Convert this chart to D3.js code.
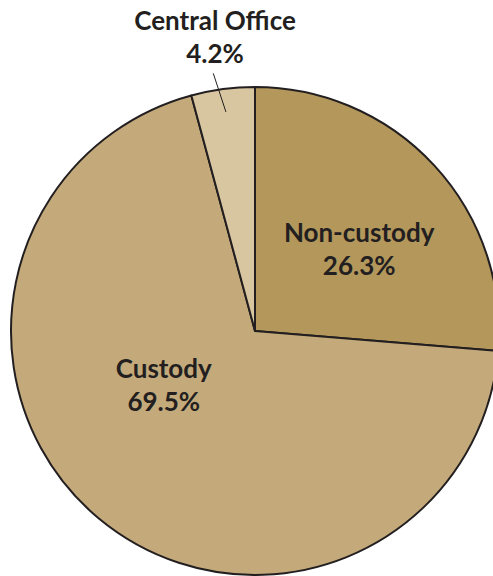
<!DOCTYPE html>
<html lang="en">
<head>
    <meta charset="UTF-8">
    <title>Share by category</title>
    <script src="https://d3js.org/d3.v7.min.js"></script>
    <style>
        body { margin: 0; background: #fff; }
        svg { display: block; }
        .label { font-family: Lato, "Open Sans", sans-serif; font-weight: 700; font-size: 26px; fill: #231f20; }
    </style>
</head>
<body>
    <div id="chart"></div>
    <script>
        // data
        var categories = ["Non-custody", "Custody", "Central Office"];
        var shares = [26.3, 69.5, 4.2];
        var shareLabels = ["26.3%", "69.5%", "4.2%"];

        var fills = ["#b3975b", "#c4aa7a", "#d8c6a1"];
        // label anchor: angle in degrees (clockwise from 12 o'clock), distance from centre
        var labelPlace = [[55.1, 127], [235.3, 111], [-8.0, 287]];

        var width = 493, height = 576;
        var cx = 255, cy = 331, radius = 244;
        var lineGap = 33;

        var svg = d3.select("#chart").append("svg")
            .attr("width", width)
            .attr("height", height);

        var g = svg.append("g").attr("transform", "translate(" + cx + "," + cy + ")");

        var pie = d3.pie().sort(null).value(function (d) { return d; });
        var arc = d3.arc().innerRadius(0).outerRadius(radius);
        var arcs = pie(shares);

        g.selectAll("path.slice")
            .data(arcs)
            .enter().append("path")
            .attr("class", "slice")
            .attr("d", arc)
            .attr("fill", function (d, i) { return fills[i]; })
            .attr("stroke", "#231f20")
            .attr("stroke-width", 2)
            .attr("stroke-linejoin", "round");

        function polar(deg, r) {
            var a = deg * Math.PI / 180;
            return [r * Math.sin(a), -r * Math.cos(a)];
        }

        // leader for the thin slice
        var small = arcs[2];
        var mid = (small.startAngle + small.endAngle) / 2 * 180 / Math.PI;
        var p1 = polar(mid, 221), p2 = polar(-9.2, 261);
        g.append("line")
            .attr("x1", p1[0]).attr("y1", p1[1])
            .attr("x2", p2[0]).attr("y2", p2[1])
            .attr("stroke", "#231f20")
            .attr("stroke-width", 1);

        var labels = g.selectAll("text.label")
            .data(categories)
            .enter().append("text")
            .attr("class", "label")
            .attr("text-anchor", "middle")
            .attr("transform", function (d, i) {
                var p = polar(labelPlace[i][0], labelPlace[i][1]);
                return "translate(" + p[0] + "," + p[1] + ")";
            });

        labels.append("tspan")
            .attr("x", 0).attr("y", -lineGap / 2)
            .text(function (d) { return d; });
        labels.append("tspan")
            .attr("x", 0).attr("y", lineGap / 2)
            .text(function (d, i) { return shareLabels[i]; });
    </script>
</body>
</html>
